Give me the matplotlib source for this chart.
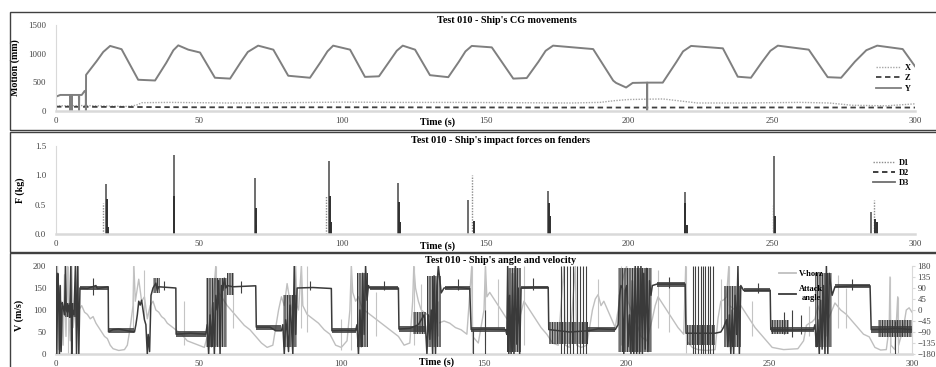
import numpy as np
import matplotlib.pyplot as plt
from matplotlib.lines import Line2D
from matplotlib.patches import Rectangle

plt.rcParams['font.family'] = ['Liberation Serif', 'DejaVu Serif']
plt.rcParams['hatch.linewidth'] = 0.8

# ---- panel 1: CG movements (mm) ----
y_pts = [(0, 250), (1.5, 280), (5, 280), (5.05, 0), (5.1, 280), (5.4, 280), (5.45, 0), (5.5, 280),
         (8, 280), (8.05, 0), (8.1, 280), (9, 280), (10, 350), (10.4, 350), (10.45, 0), (10.5, 630),
         (14.2, 870), (16.5, 1030), (18.9, 1135), (22.9, 1078), (28.7, 545), (34.6, 532),
         (38.5, 840), (41, 1060), (42.7, 1145), (46.2, 1070), (50.3, 1020), (55.5, 580), (60.8, 565),
         (64.5, 850), (67, 1030), (70.6, 1140), (75.9, 1070), (81.1, 615), (88.7, 580),
         (92.5, 860), (94.8, 1040), (96.8, 1140), (102.7, 1070), (107.9, 595), (112.8, 605),
         (116.5, 870), (119, 1050), (121.1, 1140), (125.4, 1070), (130.6, 625), (137, 590),
         (140.7, 860), (143, 1040), (145.2, 1135), (152.2, 1110), (159.7, 565), (164.4, 575),
         (168.5, 860), (171, 1050), (173.6, 1140), (187.6, 1080), (194.6, 530), (195.6, 490),
         (199.1, 410), (201.4, 490), (206.4, 495), (206.45, 0), (206.5, 495), (211.9, 495),
         (216.6, 850), (219, 1040), (221.8, 1135), (232.9, 1093), (238.1, 598), (242.7, 580),
         (246.5, 850), (249.5, 1050), (252.1, 1140), (262.9, 1070), (269.5, 590), (274.2, 580),
         (279, 860), (283, 1060), (286.8, 1140), (295.7, 1080), (300, 780)]
x_pts = [(0, 90), (10, 95), (20, 85), (25, 80), (28, 100), (30, 145), (40, 150), (60, 140),
         (80, 145), (100, 155), (120, 150), (140, 150), (160, 145), (180, 140), (190, 150),
         (195, 180), (200, 200), (205, 205), (212, 210), (224, 140), (240, 140), (260, 150),
         (270, 140), (278, 100), (290, 90), (300, 125)]
z_pts = [(0, 75), (50, 65), (100, 65), (150, 62), (200, 60), (250, 62), (300, 60)]

# ---- panel 2: impact forces (kg) ----
d1_t = [16.5, 94.2, 145.2, 250.5, 285.6]
d1_f = [0.52, 0.64, 1.0, 0.5, 0.58]
d2_t = [17.8, 18.1, 41.1, 69.7, 70.0, 95.8, 96.1, 119.8, 120.0, 146.0, 172.3, 172.6, 219.6, 220.2,
        251.0, 286.0, 286.6]
d2_f = [0.6, 0.12, 0.65, 0.45, 0.15, 0.65, 0.2, 0.55, 0.2, 0.22, 0.52, 0.3, 0.53, 0.15,
        0.3, 0.25, 0.2]
d3_t = [17.5, 41.3, 69.5, 95.5, 119.6, 144.0, 172.0, 219.8, 250.7, 284.7]
d3_f = [0.85, 1.35, 0.95, 1.25, 0.87, 0.58, 0.73, 0.72, 1.33, 0.38]

# ---- panel 3: velocity (m/s) and attack angle (deg) ----
vh_pts = [(0, 5), (0.5, 200), (1, 10), (1.5, 60), (2, 120), (2.5, 20), (3, 180), (3.5, 40), (4, 200),
          (4.5, 90), (5, 30), (5.5, 200), (6, 60), (7, 120), (7.5, 200), (8, 100), (9, 110), (10, 95),
          (11, 90), (12, 80), (13, 85), (14, 70), (15, 60), (16, 50), (17, 40), (18, 35), (19, 20),
          (20, 12), (22, 8), (24, 10), (25, 20), (26, 60), (27, 110), (27.3, 200), (27.8, 120),
          (28.5, 150), (29, 170), (30, 120), (31, 130), (32, 80), (33, 110), (34, 120), (35, 100),
          (36, 95), (37, 85), (38, 80), (39, 70), (40, 65), (42, 55), (44, 45), (46, 30), (48, 25),
          (50, 20), (52, 15), (53, 40), (54, 80), (55, 120), (56, 200), (56.5, 100), (57, 140),
          (58, 130), (59, 120), (60, 110), (62, 95), (64, 80), (66, 65), (68, 55), (70, 40), (72, 25),
          (74, 15), (76, 20), (77, 60), (78, 100), (79, 130), (80, 110), (81, 160), (82, 120), (83, 90),
          (84, 200), (84.5, 110), (85, 100), (86, 200), (86.5, 110), (88, 90), (90, 80), (92, 70),
          (94, 55), (96, 45), (98, 20), (100, 15), (102, 30), (103, 100), (103.5, 200), (104, 140),
          (105, 120), (106, 130), (107, 110), (108, 100), (110, 90), (112, 80), (114, 70), (116, 60),
          (118, 50), (120, 40), (122, 20), (124, 25), (125, 120), (125.4, 200), (126, 150), (127, 120),
          (128, 100), (130, 90), (132, 80), (134, 70), (136, 75), (138, 70), (140, 60), (142, 55),
          (144, 45), (145.7, 200), (146, 40), (148, 25), (150, 100), (150.5, 200), (151, 130),
          (152, 140), (154, 120), (156, 100), (158, 80), (160, 90), (162, 70), (164, 120), (166, 100),
          (168, 80), (170, 60), (172, 45), (174, 25), (176, 20), (178, 200), (178.5, 20), (180, 15),
          (182, 200), (182.5, 20), (184, 15), (186, 20), (188, 100), (189, 125), (190, 135),
          (191, 110), (192, 120), (194, 90), (196, 60), (197, 100), (198, 150), (199, 180), (200, 200),
          (200.5, 120), (202, 90), (204, 60), (205, 40), (207, 30), (209, 80), (210, 110), (211, 130),
          (212, 120), (214, 100), (216, 80), (218, 60), (220, 45), (220.7, 200), (221, 30), (223, 15),
          (225, 10), (228, 8), (231, 10), (232, 80), (233, 120), (234, 123), (235, 130), (235.8, 200),
          (236, 110), (238, 100), (240, 110), (241, 100), (243, 80), (245, 60), (247, 45), (249, 30),
          (251, 15), (255, 10), (260, 12), (262, 30), (263, 65), (264, 70), (265, 73), (266, 80),
          (267, 110), (268, 90), (270, 70), (272, 100), (273, 116), (275, 100), (277, 90), (279, 75),
          (281, 60), (283, 45), (285, 39), (287, 15), (289, 9), (291, 10), (292, 60), (292.3, 175),
          (292.6, 20), (294, 10), (295, 130), (295.3, 20), (297, 60), (298, 100), (299, 105), (300, 95)]
# single spikes of V-horz: (t, low, high)
vh_spikes = [(4.3, 0, 200), (7.6, 0, 200), (27, 60, 200), (31, 80, 190), (45, 20, 120), (56, 20, 200),
             (62, 60, 150), (86, 60, 200), (88, 50, 200), (100, 10, 80), (103.5, 10, 200),
             (112, 40, 140), (125.4, 20, 200), (128, 60, 160), (134, 40, 120), (145.7, 0, 200),
             (150.5, 20, 200), (155, 60, 170), (164, 20, 200), (190, 60, 170), (198, 20, 200),
             (211, 60, 190), (215, 50, 150), (220.7, 0, 200), (233, 60, 170), (235.8, 30, 200),
             (244, 40, 120), (264, 40, 110), (270, 40, 130), (274, 60, 180), (277, 60, 150),
             (292.3, 0, 175), (295, 0, 130)]

attack_pts = [(0, 180), (0.3, -180), (0.6, 150), (0.9, 90), (1.2, -180), (1.5, 100), (1.8, -170),
              (2.2, 30), (2.6, 10), (3.0, -20), (3.3, 180), (3.6, 0), (4.0, -10), (4.4, 20), (4.8, -30),
              (5.2, 180), (5.5, -180), (5.8, 0), (6.3, -20), (6.8, 180), (7.2, -180), (7.6, 180),
              (8.0, -180), (8.4, 90), (11, 88), (14, 100), (14.5, 88), (18.3, 95),
              (18.4, -90), (20, -80), (22, -78), (25, -85), (27.5, -90),
              (28, -60), (28.5, -20), (29, 36), (29.5, 20), (30, 40), (30.5, 0), (31, -40), (31.5, -60),
              (32, -180), (32.3, -100), (32.8, -170), (33.3, 60), (34, 90),
              (35, 110), (35.5, 80), (36, 95), (42, 90),
              (42.1, -99), (47, -95), (52.5, -99),
              (53, -60), (53.5, -180), (54, -20), (54.5, -150), (55, 30), (55.5, -180), (56, 60),
              (56.5, 0), (57, 120), (57.5, -180), (58, 100), (58.5, 80), (59, 130), (59.5, 90), (60, 100),
              (62, 95), (70, 99),
              (70.2, -70), (75, -70), (77, -85), (79, -85),
              (79.5, -60), (80, -180), (80.5, -40), (81, -90), (81.5, -170), (82, 20), (82.5, -60),
              (83, -180), (83.5, 180), (84, -100), (84.5, 90),
              (90, 92), (96.5, 88),
              (96.7, -85), (101, -83), (105, -85),
              (105.5, -60), (106, -180), (106.5, 0), (107, -150), (107.5, 150), (108, -100), (108.5, 180),
              (109, 40), (109.5, 100), (110, 90), (120, 90),
              (120.2, -78), (124, -75), (127, -60), (128, -40), (129, -20), (129.5, -70),
              (130, -180), (130.5, -20), (131, -120), (131.5, 0), (132, -180), (132.5, 140), (133, -180),
              (133.5, 100), (134, 180), (135, 70), (136, 90), (140, 93), (145, 88),
              (145.5, -80), (150, -78), (157.5, -80),
              (158, -100), (158.3, 180), (158.7, -180), (159, 60), (159.5, -180), (160, 150),
              (160.5, -180), (161, 180), (161.5, -140), (162, 90), (162.5, -180), (163, 90),
              (168, 93), (172.5, 93),
              (172.7, -80), (180, -90), (186.5, -85), (190, -77), (196, -80),
              (197, -60), (197.5, 60), (198, 100), (198.5, 90), (199, -180), (199.5, 80), (200, 100),
              (200.5, -150), (201, -20), (201.5, -180), (202, 120), (202.5, -180), (203, 180),
              (203.5, -180), (204, 180), (204.5, -180), (205, 180), (205.5, -180), (206, 150),
              (206.5, -160), (207, 170), (207.5, -170), (208, 120), (208.5, 60), (209, 100),
              (210.6, 106), (215, 106), (220.5, 106),
              (220.8, -95), (226, -95), (231, -95), (233, -90),
              (234, -70), (235, -40), (235.5, -150), (236, -20), (236.5, -180), (237, 0), (237.5, -180),
              (238, 60), (238.5, -100), (239, 180), (239.5, -180), (240, 100), (241, 80),
              (245, 81), (250.3, 81),
              (250.5, -80), (258, -82), (265.5, -80),
              (266, -60), (266.5, -150), (267, -40), (267.5, -180), (268, 40), (268.5, -160), (269, 100),
              (269.5, -180), (270, 180), (270.5, -180), (271, 150), (272, 60), (273, 95),
              (280, 99), (285.3, 99),
              (285.7, -80), (292, -78), (294, -75), (300, -80)]

# thin noise around the attack-angle plateaus: (t start, t end, low, high)
attack_plateau_noise = [(42.1, 52.5, -112, -85), (8.4, 18.3, 80, 100), (110, 120, 82, 98),
                        (136.5, 145, 82, 100), (163, 172.5, 85, 100), (210.6, 220.5, 96, 114),
                        (241, 250.3, 72, 90), (273, 285.3, 90, 108), (18.4, 27.5, -95, -72),
                        (70.2, 79, -80, -62), (96.7, 105, -95, -75), (120.2, 129.5, -88, -66),
                        (145.5, 157.5, -92, -68), (186.5, 196, -88, -68), (258, 265.5, -92, -70),
                        (285.7, 300, -95, -65), (250.5, 258, -92, -68)]
# wide noisy stretches of the attack angle: (t start, t end, low, high)
attack_noise = [(3, 8, -30, 30), (34, 36.5, 70, 130), (60, 62.5, 60, 150), (172.7, 186.5, -140, -50),
                (221, 231, -145, -60), (125, 129.5, -100, -10), (250.5, 257, -100, -40),
                (52.5, 60, -150, 130), (79.5, 84.5, -150, 60), (105.5, 109.5, -150, 150),
                (130, 135, -150, 140), (158, 163, -170, 170), (197, 209, -170, 170),
                (234, 240, -150, 100), (266, 272, -150, 150), (288, 300, -110, -40)]
# single spikes of the attack angle: (t, low, high)
attack_spikes = [(146, -180, -80), (150.5, -180, 0), (177, -180, 180), (178, -180, 180),
                 (179.2, -180, 180), (180.3, -180, 180), (181.2, -180, 180), (182.5, -180, 180),
                 (183.5, -180, 180), (184.6, -180, 180), (185.6, -180, 180), (223.2, -180, 180),
                 (224.1, -180, 180), (224.9, -180, 180), (226.1, -180, 180), (226.8, -180, 180),
                 (227.6, -180, 180), (228.4, -180, 180), (229.3, -180, 180), (230.1, -180, 180),
                 (294, -180, -45), (255, -100, -10), (258, -110, 0), (261, -100, -20), (13, 60, 130),
                 (38, 80, 120), (65, 70, 120), (89, 80, 120), (115, 80, 120), (141, 80, 125),
                 (167, 80, 130), (215, 90, 135), (246, 70, 110), (279, 80, 125)]

xticks = [0, 50, 100, 150, 200, 250, 300]

fig = plt.figure(figsize=(9.36, 3.67), dpi=100)
W, H = 936, 367

# panel frames
for top, bot in [(12, 130), (132, 252), (253, 400)]:
    fig.patches.append(Rectangle((10 / W, (H - bot) / H), 1.0, (bot - top) / H,
                                 transform=fig.transFigure, fill=False, ec='#404040', lw=1.0))

ax1 = fig.add_axes([56 / W, (H - 111) / H, 859 / W, 86 / H])
ax2 = fig.add_axes([56 / W, (H - 234) / H, 859 / W, 88 / H])
ax3 = fig.add_axes([56 / W, (H - 354) / H, 856 / W, 88 / H])

tick_kw = dict(labelsize=6.3, length=0, colors='#404040')


def style(ax, ylabel, ycoord, xl_y=-0.135):
    for s in ['top', 'right']:
        ax.spines[s].set_visible(False)
    ax.spines['left'].set_color('#d9d9d9')
    ax.spines['bottom'].set_color('#d9d9d9')
    ax.spines['bottom'].set_linewidth(1.8)
    ax.set_xlim(0, 300)
    ax.set_xticks(xticks)
    ax.tick_params(axis='x', pad=4.5, **tick_kw)
    ax.tick_params(axis='y', pad=7, **tick_kw)
    ax.set_ylabel(ylabel, fontsize=7.2, fontweight='bold')
    ax.yaxis.set_label_coords(*ycoord)
    ax.text(0.4447, xl_y, 'Time (s)', transform=ax.transAxes, ha='center', va='center',
            fontsize=7.2, fontweight='bold')


# panel 1
t, v = zip(*x_pts)
ax1.plot(t, v, color='#a6a6a6', lw=1.0, ls=(0, (1, 1)))
t, v = zip(*z_pts)
ax1.plot(t, v, color='#404040', lw=1.3, ls=(0, (3, 2)))
t, v = zip(*y_pts)
ax1.plot(t, v, color='#7f7f7f', lw=1.4)
ax1.set_ylim(0, 1500)
ax1.set_yticks([0, 500, 1000, 1500])
style(ax1, 'Motion (mm)', (-0.042, 0.5))
ax1.text(0.525, 1.058, "Test 010 - Ship's CG movements", transform=ax1.transAxes,
         ha='center', va='center', fontsize=7.3, fontweight='bold')
h1 = [Line2D([], [], color='#a6a6a6', lw=1.0, ls=(0, (1, 1))),
      Line2D([], [], color='#404040', lw=1.3, ls=(0, (3, 2))),
      Line2D([], [], color='#7f7f7f', lw=1.3)]
leg = ax1.legend(h1, ['X', 'Z', 'Y'], loc='upper left', bbox_to_anchor=(0.955, 0.55),
                 frameon=False, fontsize=6, handlelength=3.0, handletextpad=0.4,
                 labelspacing=0.3, borderpad=0, borderaxespad=0)
for tx in leg.get_texts():
    tx.set_fontweight('bold')

# panel 2
ax2.vlines(d1_t, 0, d1_f, color='#8c8c8c', lw=1.0, linestyles=(0, (1, 1)))
ax2.vlines(d3_t, 0, d3_f, color='#6e6e6e', lw=1.4)
ax2.vlines(d2_t, 0, d2_f, color='#303030', lw=1.4)
ax2.set_ylim(0, 1.5)
ax2.set_yticks([0, 0.5, 1.0, 1.5])
ax2.set_yticklabels(['0.0', '0.5', '1.0', '1.5'])
style(ax2, 'F (kg)', (-0.036, 0.5))
ax2.text(0.517, 1.057, "Test 010 - Ship's impact forces on fenders", transform=ax2.transAxes,
         ha='center', va='center', fontsize=7.3, fontweight='bold')
h2 = [Line2D([], [], color='#8c8c8c', lw=1.0, ls=(0, (1, 1))),
      Line2D([], [], color='#303030', lw=1.3, ls=(0, (3, 2))),
      Line2D([], [], color='#6e6e6e', lw=1.3)]
leg = ax2.legend(h2, ['D1', 'D2', 'D3'], loc='upper left', bbox_to_anchor=(0.951, 0.85),
                 frameon=False, fontsize=6, handlelength=2.6, handletextpad=0.5,
                 labelspacing=0.25, borderpad=0, borderaxespad=0)
for tx in leg.get_texts():
    tx.set_fontweight('bold')

# panel 3
t, v = zip(*vh_pts)
ax3.plot(t, v, color='#bfbfbf', lw=1.0)
st, slo, shi = zip(*vh_spikes)
ax3.vlines(st, slo, shi, color='#c4c4c4', lw=0.8)
ax3.set_ylim(0, 200)
ax3.set_yticks([0, 50, 100, 150, 200])
style(ax3, 'V (m/s)', (-0.037, 0.44), xl_y=-0.09)

ax3b = ax3.twinx()
ax3b.set_ylim(-180, 180)
ax3b.set_xlim(0, 300)
for t0, t1, lo, hi in attack_plateau_noise:
    ax3b.fill_between([t0, t1], [lo, lo], [hi, hi], color='#404040', lw=0, alpha=0.85)
for t0, t1, lo, hi in attack_noise:
    ax3b.fill_between([t0, t1], [lo, lo], [hi, hi], facecolor='none', edgecolor='#3a3a3a',
                      hatch='||||||||||', lw=0)
st, slo, shi = zip(*attack_spikes)
ax3b.vlines(st, slo, shi, color='#404040', lw=0.8)
t, v = zip(*attack_pts)
ax3b.plot(t, v, color='#3a3a3a', lw=1.1)
for s in ['top', 'left', 'bottom']:
    ax3b.spines[s].set_visible(False)
ax3b.spines['right'].set_color('#d9d9d9')
ax3b.set_yticks(range(-180, 181, 45))
ax3b.tick_params(axis='y', labelsize=6.3, length=2.5, color='#d9d9d9', labelcolor='#404040', pad=1.5)
ax3b.text(0.519, 1.057, "Test 010 - Ship's angle and velocity", transform=ax3.transAxes,
          ha='center', va='center', fontsize=7.3, fontweight='bold')
h3 = [Line2D([], [], color='#bfbfbf', lw=1.3), Line2D([], [], color='#3a3a3a', lw=1.3)]
leg = ax3b.legend(h3, ['V-horz', 'Attack\nangle'], loc='upper left', bbox_to_anchor=(0.845, 0.96),
                  frameon=False, fontsize=6, handlelength=2.0, handletextpad=0.4,
                  labelspacing=0.9, borderpad=0, borderaxespad=0)
for tx in leg.get_texts():
    tx.set_fontweight('bold')
    tx.set_multialignment('center')

fig.savefig('out.png', dpi=100)
